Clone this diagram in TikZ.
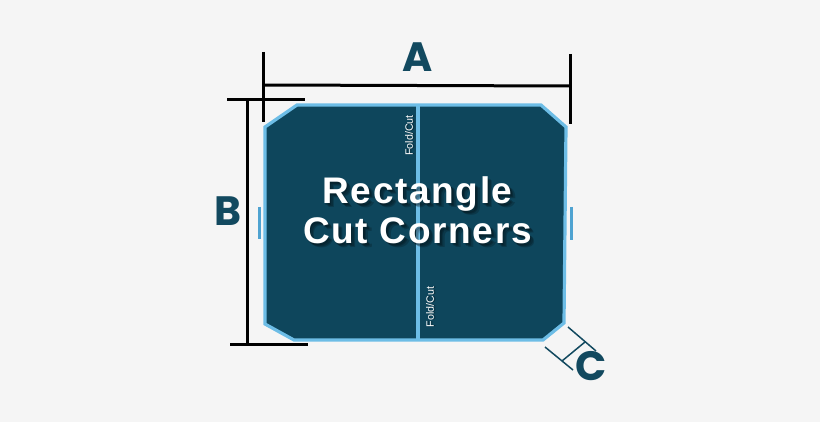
\documentclass[tikz,border=0pt]{standalone}
\usepackage{fontspec}
\setmainfont{Liberation Sans}
\newfontfamily\letterfont{Poppins}[UprightFont=*-SemiBold,BoldFont=*-Bold]
\newfontfamily\titlefont{Liberation Sans}[LetterSpace=4.5]
\definecolor{bgc}{HTML}{F5F5F5}
\definecolor{panel}{HTML}{0E465C}
\definecolor{edgeb}{HTML}{6DBDE6}
\definecolor{tickb}{HTML}{4FA3D1}
\definecolor{lett}{HTML}{12495F}
\tikzset{
 dim/.style={draw=black,line width=3pt},
 cdim/.style={draw=lett,line width=1.5pt},
 letter/.style={text=lett,font=\letterfont\bfseries\fontsize{41}{41}\selectfont,inner sep=0pt,anchor=center},
 title/.style={font=\titlefont\bfseries\fontsize{37}{40}\selectfont,align=center,inner sep=0pt,anchor=center},
 fold/.style={font=\fontsize{10.7}{11}\selectfont,rotate=90,inner sep=0pt,anchor=center},
}
\begin{document}
\begin{tikzpicture}[x=1pt,y=-1pt]
\path[use as bounding box,fill=bgc] (0,0) rectangle (820,422);
% panel
\path[fill=panel,draw=edgeb,line width=3.2pt,line join=miter]
  (265,127) -- (297,105) -- (541,105) -- (566,127) -- (564,323) -- (543,340) -- (294,340) -- (265,324) -- cycle;
\coordinate (ft) at (418,105); \coordinate (fb) at (418,340);
\draw[edgeb,line width=3.2pt] (ft) -- (fb);
% side ticks
\coordinate (l1) at (259,207); \coordinate (l2) at (259,239);
\coordinate (r1) at (571,207); \coordinate (r2) at (571,240);
\draw[tickb,line width=3pt] (l1) -- (l2);
\draw[tickb,line width=3pt] (r1) -- (r2);
% dimension A
\coordinate (a1) at (263,52); \coordinate (a2) at (263,122);
\coordinate (a3) at (570,54); \coordinate (a4) at (570,124);
\coordinate (a5) at (263,85); \coordinate (a6) at (570,86);
\draw[dim] (a1) -- (a2); \draw[dim] (a3) -- (a4); \draw[dim] (a5) -- (a6);
% dimension B
\coordinate (b1) at (227,100); \coordinate (b2) at (305,100);
\coordinate (b3) at (230,345); \coordinate (b4) at (308,345);
\coordinate (b5) at (247,100); \coordinate (b6) at (247,345);
\draw[dim] (b1) -- (b2); \draw[dim] (b3) -- (b4); \draw[dim] (b5) -- (b6);
% dimension C
\coordinate (c1) at (568,327); \coordinate (c2) at (596,351);
\coordinate (c3) at (545,347); \coordinate (c4) at (573,370);
\coordinate (c5) at (585,342); \coordinate (c6) at (562,361);
\draw[cdim] (c1) -- (c2); \draw[cdim] (c3) -- (c4); \draw[cdim] (c5) -- (c6);
% letters
\node[letter] (la) at (418,57) {A};
\node[letter] (lb) at (228,211) {B};
\node[letter] (lc) at (591,366) {C};
% title
\node[title,text=black,opacity=.2] (ts1) at (420.5,213) {Rectangle\\Cut Corners};
\node[title,text=black,opacity=.2] (ts2) at (422,214) {Rectangle\\Cut Corners};
\node[title,text=black,opacity=.2] (ts3) at (419,212) {Rectangle\\Cut Corners};
\node[title,text=white] (tt) at (417.5,210) {Rectangle\\Cut Corners};
% fold labels
\node[fold,text=black,opacity=.35] (f1s) at (410.5,135.5) {Fold/Cut};
\node[fold,text=white] (f1) at (409,135.5) {Fold/Cut};
\node[fold,text=black,opacity=.35] (f2s) at (431.5,307) {Fold/Cut};
\node[fold,text=white] (f2) at (430,307) {Fold/Cut};
\end{tikzpicture}
\end{document}
